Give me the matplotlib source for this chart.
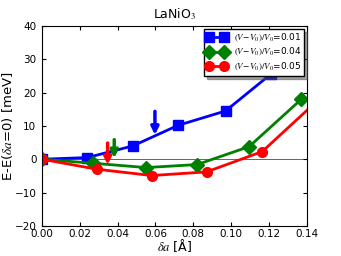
import numpy as np
import matplotlib
matplotlib.use("Agg")
import matplotlib.pyplot as plt

plt.rcParams['mathtext.fontset'] = 'stix'

# data
da_blue = [0.0, 0.024, 0.048, 0.072, 0.097, 0.121]
e_blue = [0.0, 0.5, 4.0, 10.2, 14.5, 25.6]
da_green = [0.0, 0.027, 0.055, 0.082, 0.1095, 0.137]
e_green = [0.0, -1.2, -2.5, -1.6, 3.8, 18.0]
da_red = [0.0, 0.029, 0.058, 0.087, 0.1164, 0.145]
e_red = [0.0, -3.0, -4.9, -3.8, 2.3, 17.3]
labels = [r'$(V\!-\!V_0)/V_0$=0.01', r'$(V\!-\!V_0)/V_0$=0.04', r'$(V\!-\!V_0)/V_0$=0.05']

# arrows marking the minima (x, y_start, y_end)
arrows = [(0.0597, 15.2, 6.5, 'b'), (0.0347, 5.7, -2.5, 'r'), (0.0382, 6.7, -0.5, 'g')]

fig = plt.figure(figsize=(3.41, 2.56), dpi=100)
ax = fig.add_axes([0.123, 0.118, 0.777, 0.78])

ax.axhline(0, color='k', lw=0.6, alpha=0.7)
ax.plot(da_blue, e_blue, 'b-s', lw=2, ms=7, label=labels[0])
ax.plot(da_green, e_green, 'g-D', lw=2, ms=7, label=labels[1])
ax.plot(da_red, e_red, 'r-o', lw=2, ms=7, label=labels[2])

for x, y0, y1, c in arrows:
    ax.annotate('', xy=(x, y1), xytext=(x, y0),
                arrowprops=dict(arrowstyle='-|>', color=c, lw=2.5, mutation_scale=11))

ax.set_xlim(0, 0.14)
ax.set_ylim(-20, 40)
ax.set_xticks(np.arange(0, 0.141, 0.02))
ax.set_yticks(range(-20, 41, 10))
ax.tick_params(direction='in', labelsize=7.5, top=True, right=True, length=3, pad=2)
ax.tick_params(axis='y', pad=4)
ax.set_title(r'LaNiO$_3$', fontsize=9)
ax.set_xlabel(r'$\delta a$ [Å]', fontsize=9, labelpad=-1)
ax.set_ylabel(r'E-E($\delta a$=0) [meV]', fontsize=9.5, labelpad=0)
ax.legend(loc='upper right', fontsize=6.5, numpoints=2, fancybox=False, shadow=True,
          framealpha=1, edgecolor='k', handlelength=2.2, borderpad=0.3,
          labelspacing=0.3, borderaxespad=0.3)

fig.savefig('out.png', dpi=100)
